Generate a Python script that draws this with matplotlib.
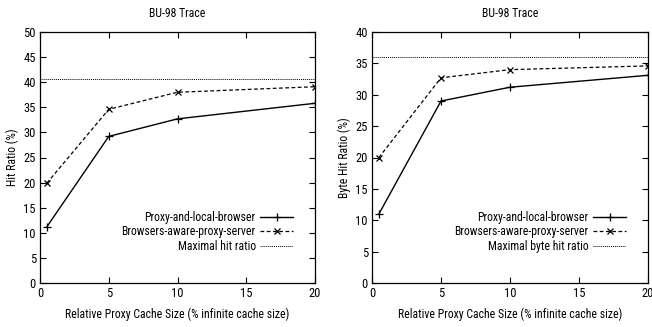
import matplotlib
matplotlib.use("Agg")
import matplotlib.pyplot as plt

plt.rcParams['font.family'] = ['Liberation Sans Narrow', 'Roboto Condensed',
                               'Archivo Narrow', 'DejaVu Sans']

# cache size (% of infinite cache size)
cache_size = [0.5, 5, 10, 20]

# hit ratio (%)
hit_local = [11.2, 29.2, 32.7, 35.8]
hit_aware = [19.9, 34.6, 38.0, 39.1]
hit_max = 40.6

# byte hit ratio (%)
byte_local = [11.0, 29.0, 31.2, 33.1]
byte_aware = [20.0, 32.7, 34.0, 34.6]
byte_max = 36.0

title = "BU-98 Trace"
xlabel = "Relative Proxy Cache Size (% infinite cache size)"

fig = plt.figure(figsize=(6.52, 3.27), dpi=100)
ax1 = fig.add_axes([40 / 652, 1 - 283 / 327, 275 / 652, 251 / 327])
ax2 = fig.add_axes([372 / 652, 1 - 283 / 327, 276 / 652, 251 / 327])


def draw(ax, local, aware, maxval, ymax, ylabel, maxlabel):
    ax.plot(cache_size, local, color='black', lw=1.0, marker='+', ms=6,
            mew=0.9, label='Proxy-and-local-browser')
    ax.plot(cache_size, aware, color='black', lw=0.9, ls=(0, (3, 2)), marker='x',
            ms=4.5, mew=0.9, label='Browsers-aware-proxy-server')
    ax.axhline(maxval, color='black', lw=0.7, ls=(0, (1, 1)), label=maxlabel)
    ax.set_xlim(0, 20)
    ax.set_ylim(0, ymax)
    ax.set_xticks([0, 5, 10, 15, 20])
    ax.set_yticks(range(0, ymax + 1, 5))
    ax.tick_params(direction='in', top=True, right=True, labelsize=9,
                   length=4, width=0.8)
    ax.tick_params(axis='y', pad=3)
    ax.tick_params(axis='x', pad=3)
    for s in ax.spines.values():
        s.set_linewidth(0.9)
    ax.set_title(title, fontsize=8.5, pad=11)
    ax.set_xlabel(xlabel, fontsize=8.5, labelpad=5)
    ax.set_ylabel(ylabel, fontsize=8.5, labelpad=3)
    ax.legend(loc='lower right', bbox_to_anchor=(0.943, 0.095), frameon=False,
              markerfirst=False, fontsize=8.5, handlelength=2.8,
              handletextpad=0.4, labelspacing=0.15, borderpad=0)


draw(ax1, hit_local, hit_aware, hit_max, 50, "Hit Ratio (%)", "Maximal hit ratio")
draw(ax2, byte_local, byte_aware, byte_max, 40, "Byte Hit Ratio (%)",
     "Maximal byte hit ratio")

fig.savefig("out.png", dpi=100)
